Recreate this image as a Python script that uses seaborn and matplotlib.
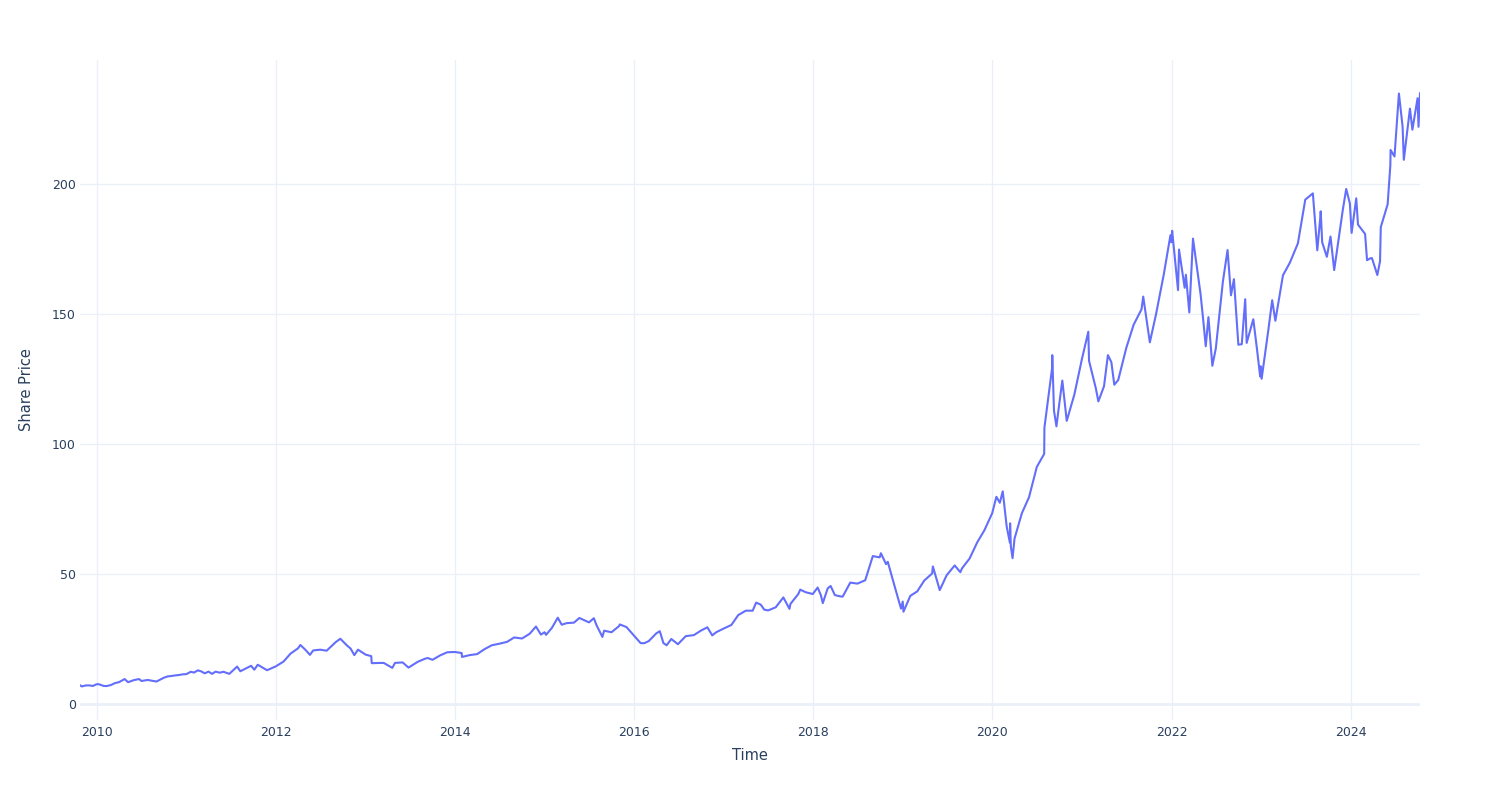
import matplotlib
matplotlib.use("Agg")
import matplotlib.pyplot as plt
import matplotlib.dates as mdates
import pandas as pd
import seaborn as sns

dates = [
    "2009-10-23", "2009-10-30", "2009-11-16", "2009-11-30", "2009-12-15", "2009-12-28",
    "2010-01-06", "2010-01-28", "2010-02-08", "2010-02-26", "2010-03-15", "2010-03-31",
    "2010-04-23", "2010-05-07", "2010-05-31", "2010-06-21", "2010-07-01", "2010-07-26",
    "2010-08-31", "2010-09-30", "2010-10-15", "2010-10-29", "2010-11-15", "2010-11-30",
    "2010-12-15", "2010-12-31",
    "2011-01-18", "2011-01-31", "2011-02-16", "2011-02-28", "2011-03-16", "2011-03-31",
    "2011-04-15", "2011-04-29", "2011-05-16", "2011-05-31", "2011-06-24", "2011-07-26",
    "2011-08-08", "2011-08-31", "2011-09-21", "2011-10-04", "2011-10-18", "2011-11-25",
    "2011-12-30",
    "2012-01-31", "2012-02-29", "2012-03-30", "2012-04-09", "2012-04-30", "2012-05-18",
    "2012-05-31", "2012-06-29", "2012-07-25", "2012-08-31", "2012-09-19", "2012-10-15",
    "2012-10-31", "2012-11-15", "2012-11-30", "2012-12-31",
    "2013-01-23", "2013-01-25", "2013-02-28", "2013-03-15", "2013-04-19", "2013-04-30",
    "2013-05-31", "2013-06-24", "2013-07-31", "2013-08-30", "2013-09-10", "2013-09-30",
    "2013-10-31", "2013-11-29", "2013-12-31",
    "2014-01-27", "2014-01-28", "2014-02-28", "2014-03-31", "2014-04-30", "2014-05-30",
    "2014-06-30", "2014-07-31", "2014-08-29", "2014-09-30", "2014-10-31", "2014-11-26",
    "2014-12-16", "2014-12-31",
    "2015-01-06", "2015-01-30", "2015-02-23", "2015-03-11", "2015-03-31", "2015-04-30",
    "2015-05-22", "2015-06-30", "2015-07-20", "2015-07-31", "2015-08-24", "2015-08-31",
    "2015-09-30", "2015-10-30", "2015-11-03", "2015-11-30", "2015-12-31",
    "2016-01-27", "2016-02-11", "2016-02-29", "2016-03-31", "2016-04-14", "2016-04-29",
    "2016-05-12", "2016-05-31", "2016-06-27", "2016-07-29", "2016-08-31", "2016-09-30",
    "2016-10-25", "2016-11-14", "2016-11-30", "2016-12-30",
    "2017-01-31", "2017-02-28", "2017-03-31", "2017-04-28", "2017-05-12", "2017-05-31",
    "2017-06-14", "2017-06-30", "2017-07-31", "2017-08-31", "2017-09-25", "2017-09-29",
    "2017-10-31", "2017-11-08", "2017-11-30", "2017-12-29",
    "2018-01-18", "2018-01-31", "2018-02-08", "2018-02-28", "2018-03-12", "2018-03-29",
    "2018-04-20", "2018-04-30", "2018-05-31", "2018-06-29", "2018-07-31", "2018-08-31",
    "2018-09-28", "2018-10-03", "2018-10-24", "2018-10-31", "2018-11-30", "2018-12-24",
    "2018-12-31",
    "2019-01-03", "2019-01-31", "2019-02-28", "2019-03-29", "2019-04-30", "2019-05-03",
    "2019-05-31", "2019-06-28", "2019-07-31", "2019-08-23", "2019-08-30", "2019-09-30",
    "2019-10-31", "2019-11-29", "2019-12-31",
    "2020-01-17", "2020-01-31", "2020-02-12", "2020-02-28", "2020-03-12", "2020-03-13",
    "2020-03-16", "2020-03-23", "2020-03-31", "2020-04-30", "2020-05-29", "2020-06-30",
    "2020-07-30", "2020-07-31", "2020-08-31", "2020-09-01", "2020-09-08", "2020-09-18",
    "2020-09-30", "2020-10-12", "2020-10-30", "2020-11-30", "2020-12-31",
    "2021-01-26", "2021-01-29", "2021-02-26", "2021-03-08", "2021-03-31", "2021-04-16",
    "2021-04-30", "2021-05-12", "2021-05-28", "2021-06-30", "2021-07-30", "2021-08-31",
    "2021-09-07", "2021-09-30", "2021-10-04", "2021-10-29", "2021-11-30", "2021-12-27",
    "2021-12-31",
    "2022-01-03", "2022-01-27", "2022-01-31", "2022-02-23", "2022-02-28", "2022-03-14",
    "2022-03-29", "2022-04-29", "2022-05-11", "2022-05-20", "2022-05-31", "2022-06-16",
    "2022-06-30", "2022-07-29", "2022-08-17", "2022-08-31", "2022-09-12", "2022-09-30",
    "2022-10-14", "2022-10-28", "2022-11-03", "2022-11-30", "2022-12-15", "2022-12-28",
    "2022-12-30",
    "2023-01-03", "2023-01-31", "2023-02-15", "2023-02-28", "2023-03-31", "2023-04-28",
    "2023-05-31", "2023-06-30", "2023-07-31", "2023-08-18", "2023-08-31", "2023-09-01",
    "2023-09-07", "2023-09-26", "2023-10-11", "2023-10-26", "2023-11-30", "2023-12-14",
    "2023-12-29",
    "2024-01-05", "2024-01-24", "2024-01-31", "2024-02-29", "2024-03-08", "2024-03-21",
    "2024-03-28", "2024-04-19", "2024-04-30", "2024-05-03", "2024-05-31", "2024-06-11",
    "2024-06-12", "2024-06-28", "2024-07-16", "2024-07-31", "2024-08-05", "2024-08-30",
    "2024-09-09", "2024-09-30", "2024-10-04", "2024-10-10",
]

prices = [
    7.25, 6.75, 7.15, 7.15, 6.95, 7.55,
    7.65, 6.95, 6.9, 7.3, 8.05, 8.4,
    9.6, 8.4, 9.2, 9.6, 8.85, 9.25,
    8.65, 10.1, 10.6, 10.75, 11.0, 11.15,
    11.4, 11.5,
    12.4, 12.1, 12.95, 12.6, 11.8, 12.45,
    11.6, 12.45, 12.05, 12.4, 11.6, 14.4,
    12.6, 13.7, 14.7, 13.2, 15.1, 13.0,
    14.45,
    16.3, 19.4, 21.4, 22.7, 20.8, 18.9,
    20.6, 20.9, 20.5, 23.8, 25.1, 22.6,
    21.3, 18.8, 20.9, 19.0,
    18.4, 15.7, 15.8, 15.8, 13.9, 15.8,
    16.0, 14.0, 16.2, 17.4, 17.7, 17.0,
    18.7, 19.9, 20.0,
    19.6, 18.1, 18.8, 19.2, 21.1, 22.6,
    23.2, 23.9, 25.6, 25.2, 27.0, 29.8,
    26.7, 27.6,
    26.6, 29.3, 33.2, 30.5, 31.1, 31.3,
    33.1, 31.4, 33.0, 30.3, 25.8, 28.2,
    27.6, 29.9, 30.6, 29.6, 26.3,
    23.4, 23.4, 24.2, 27.2, 28.0, 23.4,
    22.6, 25.0, 23.0, 26.1, 26.5, 28.3,
    29.5, 26.4, 27.6, 29.0,
    30.4, 34.2, 35.9, 35.9, 39.0, 38.2,
    36.3, 36.0, 37.2, 41.0, 36.6, 38.5,
    42.3, 44.0, 43.0, 42.3,
    44.8, 41.9, 38.8, 44.5, 45.4, 41.9,
    41.4, 41.3, 46.7, 46.3, 47.6, 56.9,
    56.4, 58.0, 53.8, 54.7, 44.6, 36.7,
    39.4,
    35.5, 41.6, 43.3, 47.5, 50.2, 52.9,
    43.8, 49.5, 53.3, 50.7, 52.2, 56.0,
    62.2, 66.8, 73.4,
    79.7, 77.4, 81.8, 68.3, 62.1, 69.5,
    60.6, 56.1, 63.6, 73.4, 79.5, 91.2,
    96.2, 106.3, 129.0, 134.2, 112.8, 106.8,
    115.8, 124.4, 108.9, 119.0, 132.7,
    143.2, 132.0, 121.3, 116.4, 122.2, 134.2,
    131.5, 122.8, 124.6, 137.0, 145.9, 151.8,
    156.7, 141.5, 139.1, 149.8, 165.3, 180.3,
    177.6,
    182.0, 159.2, 174.8, 160.1, 165.1, 150.6,
    179.0, 157.6, 146.5, 137.6, 148.8, 130.1,
    136.7, 162.5, 174.6, 157.2, 163.4, 138.2,
    138.4, 155.7, 138.9, 148.0, 136.5, 126.0,
    129.9,
    125.1, 144.3, 155.3, 147.4, 164.9, 169.7,
    177.2, 194.0, 196.4, 174.5, 187.9, 189.5,
    177.6, 172.0, 179.8, 166.9, 190.0, 198.1,
    192.5,
    181.2, 194.5, 184.4, 180.8, 170.7, 171.4,
    171.5, 165.0, 170.3, 183.4, 192.2, 207.2,
    213.1, 210.6, 234.8, 222.1, 209.3, 229.0,
    220.9, 233.0, 222.0, 235.0,
]

df = pd.DataFrame({"Time": pd.to_datetime(dates), "Share Price": prices})

sns.set_theme(style="white")
plt.rcParams["font.family"] = ["DejaVu Sans"]

text_color = "#2a3f5f"
grid_color = "#EBF0F8"

fig = plt.figure(figsize=(15, 8), dpi=100)
ax = fig.add_axes([80 / 1500, 80 / 800, 1340 / 1500, 660 / 800])

sns.lineplot(data=df, x="Time", y="Share Price", ax=ax, color="#636efa",
             linewidth=1.5, estimator=None, sort=False)

ax.set_xlim(df["Time"].iloc[0], df["Time"].iloc[-1])
ax.set_ylim(-6.15, 247.7)
ax.set_yticks([0, 50, 100, 150, 200])
ax.xaxis.set_major_locator(mdates.YearLocator(2))
ax.xaxis.set_major_formatter(mdates.DateFormatter("%Y"))

ax.grid(True, color=grid_color, linewidth=1)
ax.set_axisbelow(True)
ax.axhline(0, color=grid_color, linewidth=2, zorder=0.5)
for s in ax.spines.values():
    s.set_visible(False)

ax.tick_params(axis="both", length=0, labelsize=9, colors=text_color)
ax.tick_params(axis="x", pad=4)
ax.tick_params(axis="y", pad=3)

ax.set_xlabel("Time", fontsize=10.5, color=text_color)
ax.set_ylabel("Share Price", fontsize=10.5, color=text_color)
ax.xaxis.label.set_va("center")
ax.yaxis.label.set_va("center")
ax.xaxis.set_label_coords(0.5, (720 - 756) / 660)
ax.yaxis.set_label_coords((27 - 80) / 1340, 0.5)

fig.savefig("out.png", dpi=100, facecolor="white")
